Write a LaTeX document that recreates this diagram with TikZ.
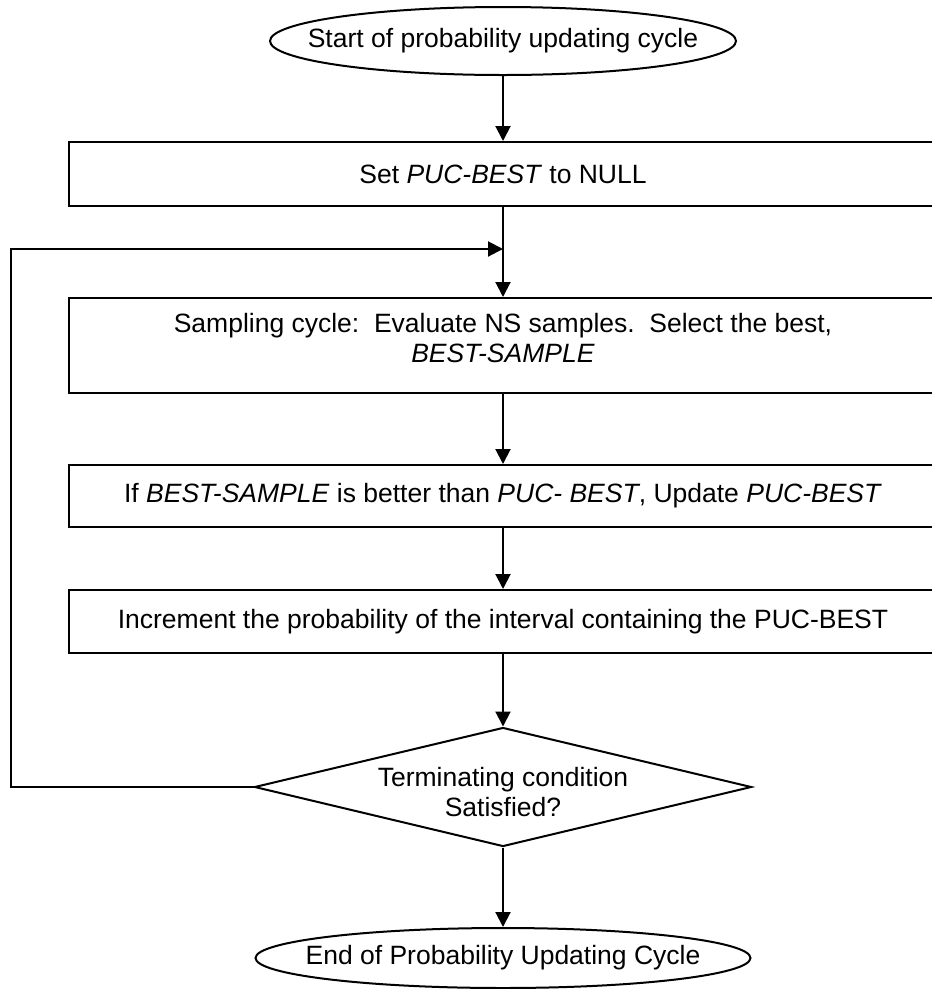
\documentclass[tikz,border=0pt]{standalone}
\usepackage{fontspec}
\setmainfont{Liberation Sans}
\usetikzlibrary{shapes.geometric,arrows.meta}

\begin{document}
\begin{tikzpicture}[x=1pt, y=-1pt, line width=2pt,
    font=\fontsize{26.5}{30}\selectfont,
    box/.style={draw, rectangle, minimum width=868pt, inner sep=0pt, align=center},
    arr/.style={-{Triangle[length=15pt,width=15pt]}}]
    \clip (0,0) rectangle (932,989);
    \node[draw, ellipse, minimum width=466pt, minimum height=68pt, inner sep=0pt,
        label=center:{Start of probability updating cycle}] (start) at (503,41) {};
    \node[box, minimum height=64pt] (init) at (503,174) {Set \textit{PUC-BEST} to NULL};
    \node[box, minimum height=95pt] (sample) at (503,345.5) {};
    \node[align=center] (sampletxt) at (503,338) {Sampling cycle:\ \ Evaluate NS samples.\ \ Select the best,\\\textit{BEST-SAMPLE}};
    \node[box, minimum height=62pt] (update) at (503,496) {If \textit{BEST-SAMPLE} is better than \textit{PUC- BEST}, Update \textit{PUC-BEST}};
    \node[box, minimum height=63pt] (incr) at (503,621.5) {Increment the probability of the interval containing the PUC-BEST};
    \node[draw, diamond, aspect=4.18, minimum width=497pt, minimum height=119pt, inner sep=0pt,
        label={[align=center, yshift=-5pt]center:Terminating condition\\Satisfied?}] (cond) at (503,787) {};
    \node[draw, ellipse, minimum width=495pt, minimum height=60pt, inner sep=0pt,
        label=center:{End of Probability Updating Cycle}] (stop) at (503,958) {};
    % loop back
    \coordinate (join) at (503,249);
    \coordinate (lft) at (11,787);
    \draw[arr] (start) -- (init);
    \draw[arr] (init) -- (sample);
    \draw[arr] (sample) -- (update);
    \draw[arr] (update) -- (incr);
    \draw[arr] (incr) -- (cond);
    \draw[arr] (cond) -- (stop);
    \draw[arr] (cond.west) -- (lft) |- (join);
\end{tikzpicture}
\end{document}
